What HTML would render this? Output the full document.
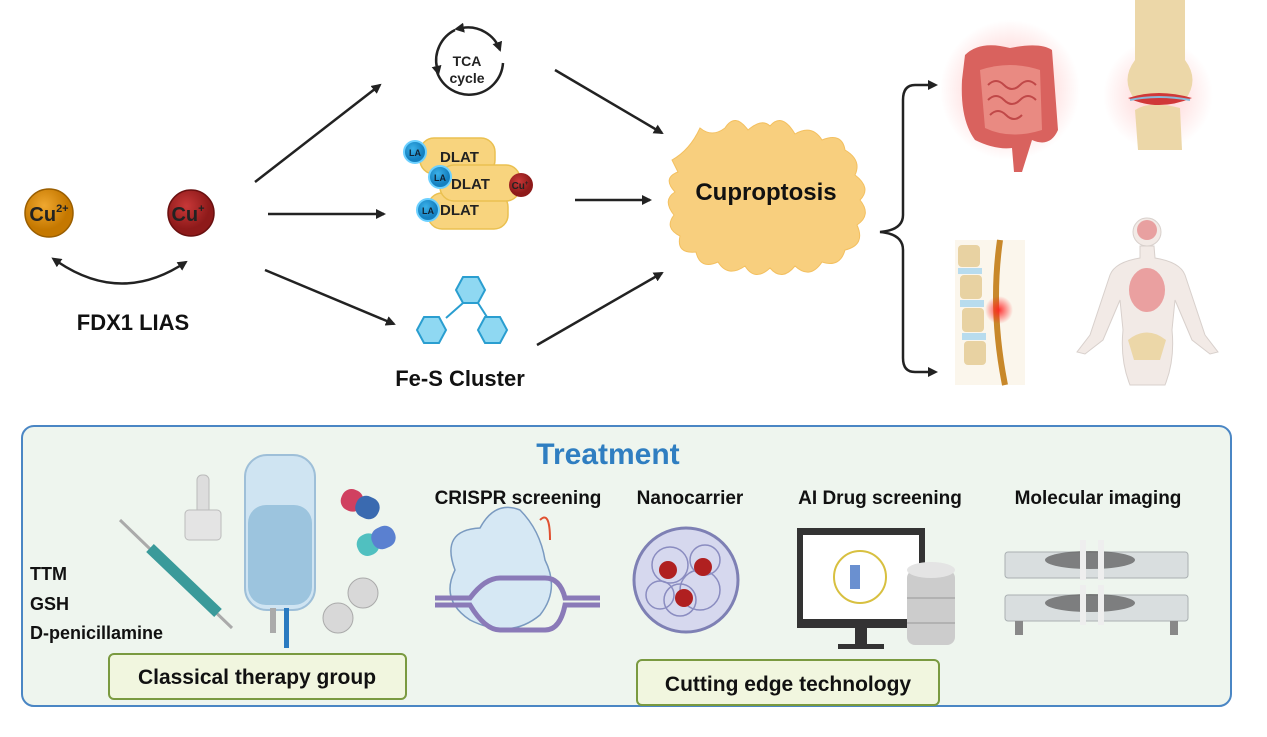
<!DOCTYPE html>
<html><head><meta charset="utf-8"><style>
body{margin:0;background:#fff;}
svg{display:block;font-family:"Liberation Sans",sans-serif;font-weight:bold;}
</style></head><body>
<svg width="1267" height="737" viewBox="0 0 1267 737" xmlns="http://www.w3.org/2000/svg">
<defs>
<marker id="ah" markerWidth="10" markerHeight="10" refX="8" refY="5" orient="auto" markerUnits="userSpaceOnUse"><path d="M0,0 L10,5 L0,10 Z" fill="#222"/></marker>
<marker id="ahs" markerWidth="10" markerHeight="10" refX="2" refY="5" orient="auto-start-reverse" markerUnits="userSpaceOnUse"><path d="M0,0 L10,5 L0,10 Z" fill="#222"/></marker>
<radialGradient id="cu2" cx="0.4" cy="0.35"><stop offset="0" stop-color="#f0a830"/><stop offset="1" stop-color="#c57800"/></radialGradient>
<radialGradient id="cu1" cx="0.4" cy="0.35"><stop offset="0" stop-color="#c83838"/><stop offset="1" stop-color="#8e1a1a"/></radialGradient>
<radialGradient id="la" cx="0.4" cy="0.35"><stop offset="0" stop-color="#3ab0e8"/><stop offset="1" stop-color="#1480c0"/></radialGradient>
<radialGradient id="glow"><stop offset="0" stop-color="#ff2020" stop-opacity="0.9"/><stop offset="1" stop-color="#ff2020" stop-opacity="0"/></radialGradient>
</defs>

<!-- Cu ions -->
<circle cx="49" cy="213" r="24" fill="url(#cu2)" stroke="#9a5e00" stroke-width="1.5"/>
<text x="49" y="221" font-size="20" text-anchor="middle" fill="#222">Cu<tspan font-size="11" dy="-9">2+</tspan></text>
<circle cx="191" cy="213" r="23" fill="url(#cu1)" stroke="#6a1010" stroke-width="1.5"/>
<text x="188" y="221" font-size="20" text-anchor="middle" fill="#222">Cu<tspan font-size="11" dy="-9">+</tspan></text>
<path d="M58,262 Q122,305 186,262" fill="none" stroke="#222" stroke-width="2.5" marker-start="url(#ahs)" marker-end="url(#ah)"/>
<text x="133" y="330" font-size="22" text-anchor="middle" fill="#111">FDX1  LIAS</text>

<!-- arrows from Cu+ -->
<line x1="255" y1="182" x2="380" y2="85" stroke="#222" stroke-width="2.5" marker-end="url(#ah)"/>
<line x1="268" y1="214" x2="384" y2="214" stroke="#222" stroke-width="2.5" marker-end="url(#ah)"/>
<line x1="265" y1="270" x2="394" y2="324" stroke="#222" stroke-width="2.5" marker-end="url(#ah)"/>

<!-- TCA cycle -->
<path d="M437,68 A34,34 0 0 1 455,30" fill="none" stroke="#222" stroke-width="2.5" marker-start="url(#ahs)"/>
<path d="M462,28 A34,34 0 0 1 500,50" fill="none" stroke="#222" stroke-width="2.5" marker-start="url(#ahs)" marker-end="url(#ah)"/>
<path d="M503,63 A34,34 0 0 1 437,72" fill="none" stroke="#222" stroke-width="2.5"/>
<text x="467" y="66" font-size="14" text-anchor="middle" fill="#222">TCA</text>
<text x="467" y="83" font-size="14" text-anchor="middle" fill="#222">cycle</text>

<!-- DLAT -->
<rect x="420" y="138" width="75" height="36" rx="14" fill="#f8d47e" stroke="#eac050" stroke-width="1.5"/>
<rect x="428" y="193" width="80" height="36" rx="14" fill="#f8d47e" stroke="#eac050" stroke-width="1.5"/>
<rect x="440" y="165" width="80" height="36" rx="14" fill="#f8d47e" stroke="#eac050" stroke-width="1.5"/>
<text x="440" y="162" font-size="15" fill="#222">DLAT</text>
<text x="451" y="189" font-size="15" fill="#222">DLAT</text>
<text x="440" y="215" font-size="15" fill="#222">DLAT</text>
<circle cx="415" cy="152" r="11" fill="url(#la)" stroke="#6cd0ff" stroke-width="2"/>
<text x="415" y="156" font-size="9" text-anchor="middle" fill="#123">LA</text>
<circle cx="440" cy="177" r="11" fill="url(#la)" stroke="#6cd0ff" stroke-width="2"/>
<text x="440" y="181" font-size="9" text-anchor="middle" fill="#123">LA</text>
<circle cx="428" cy="210" r="11" fill="url(#la)" stroke="#6cd0ff" stroke-width="2"/>
<text x="428" y="214" font-size="9" text-anchor="middle" fill="#123">LA</text>
<circle cx="521" cy="185" r="12" fill="url(#cu1)"/>
<text x="520" y="189" font-size="10" text-anchor="middle" fill="#222">Cu<tspan font-size="6" dy="-4">+</tspan></text>

<!-- Fe-S cluster -->
<g fill="#8fd8f2" stroke="#2a9ed0" stroke-width="2">
<polygon points="456,290 463,277 478,277 485,290 478,303 463,303"/>
<polygon points="417,330 424,317 439,317 446,330 439,343 424,343"/>
<polygon points="478,330 485,317 500,317 507,330 500,343 485,343"/>
</g>
<line x1="463" y1="303" x2="446" y2="318" stroke="#2a9ed0" stroke-width="2"/>
<line x1="478" y1="303" x2="487" y2="317" stroke="#2a9ed0" stroke-width="2"/>
<text x="460" y="386" font-size="22" text-anchor="middle" fill="#111">Fe-S Cluster</text>

<!-- arrows to cuproptosis -->
<line x1="555" y1="70" x2="662" y2="133" stroke="#222" stroke-width="2.5" marker-end="url(#ah)"/>
<line x1="575" y1="200" x2="650" y2="200" stroke="#222" stroke-width="2.5" marker-end="url(#ah)"/>
<line x1="537" y1="345" x2="662" y2="273" stroke="#222" stroke-width="2.5" marker-end="url(#ah)"/>

<!-- Cuproptosis blob -->
<path d="M672,160 Q690,150 700,128 Q712,138 725,128 Q735,112 748,130 Q762,118 770,126 Q782,112 795,134 Q812,124 822,140 Q842,132 845,150 Q862,160 855,175 Q872,188 860,200 Q872,215 857,225 Q866,245 845,250 Q840,268 822,262 Q810,280 795,266 Q782,282 770,268 Q755,282 745,266 Q728,278 718,262 Q700,270 696,252 Q676,254 680,236 Q664,228 674,215 Q662,200 675,192 Q662,178 678,172 Z" fill="#f8cf7e" stroke="#f3c060" stroke-width="1"/>
<text x="766" y="200" font-size="24" text-anchor="middle" fill="#111">Cuproptosis</text>

<!-- brace -->
<path d="M935,85 L915,85 Q903,85 903,100 L903,215 Q903,230 880,232 Q903,234 903,250 L903,358 Q903,372 915,372 L935,372" fill="none" stroke="#222" stroke-width="2.5"/>
<polygon points="938,85 928,80 928,90" fill="#222"/>
<polygon points="938,372 928,367 928,377" fill="#222"/>

<!-- intestine -->
<circle cx="1010" cy="90" r="70" fill="url(#glow)" opacity="0.35"/>
<path d="M965,55 Q980,40 1010,48 Q1040,42 1052,50 L1058,130 Q1050,148 1032,140 L1022,172 L1014,172 L1012,148 Q995,150 975,140 Q960,120 962,80 Z" fill="#d9625e"/>
<path d="M980,70 Q1010,60 1040,70 L1042,130 Q1010,140 985,128 Z" fill="#e98a82"/>
<path d="M988,85 q8,-8 16,0 q8,8 16,0 q8,-8 16,0 M988,100 q8,-8 16,0 q8,8 16,0 q8,-8 16,0 M990,115 q8,-8 16,0 q8,8 16,0" fill="none" stroke="#c04848" stroke-width="2"/>
<!-- knee -->
<circle cx="1158" cy="95" r="55" fill="url(#glow)" opacity="0.25"/>
<path d="M1135,0 L1185,0 L1185,60 Q1200,80 1185,100 L1135,100 Q1120,80 1135,60 Z" fill="#ecd7a8"/>
<path d="M1135,110 Q1150,100 1180,108 L1182,150 L1138,150 Z" fill="#ecd7a8"/>
<path d="M1128,98 Q1158,88 1192,98 Q1158,112 1128,98 Z" fill="#d03838"/>
<path d="M1130,100 Q1158,94 1190,100" fill="none" stroke="#8ab8d8" stroke-width="2"/>
<!-- spine -->
<rect x="955" y="240" width="70" height="145" fill="#fbf6ec"/>
<g fill="#e8d2a2"><rect x="958" y="245" width="22" height="22" rx="4"/><rect x="960" y="275" width="22" height="24" rx="4"/><rect x="962" y="308" width="22" height="24" rx="4"/><rect x="964" y="341" width="22" height="24" rx="4"/></g>
<g fill="#b8dcee"><rect x="958" y="268" width="24" height="6"/><rect x="960" y="300" width="24" height="7"/><rect x="962" y="333" width="24" height="7"/></g>
<path d="M1000,240 Q990,310 1005,385" fill="none" stroke="#c8882a" stroke-width="6"/>
<circle cx="999" cy="310" r="14" fill="url(#glow)"/>
<!-- body -->
<g fill="#f2eae6" stroke="#d8d0cc" stroke-width="1">
<circle cx="1147" cy="232" r="14"/>
<path d="M1140,246 L1154,246 L1155,258 Q1180,262 1185,275 L1205,335 L1218,352 L1210,354 L1192,340 L1175,300 L1172,330 Q1175,360 1165,385 L1130,385 Q1120,360 1123,330 L1120,300 L1103,340 L1085,354 L1077,352 L1090,335 L1110,275 Q1115,262 1140,258 Z"/>
</g>
<ellipse cx="1147" cy="290" rx="18" ry="22" fill="#eaa0a0"/>
<circle cx="1147" cy="230" r="10" fill="#e8a0a0"/>
<path d="M1128,340 Q1147,325 1166,340 L1160,360 L1134,360 Z" fill="#ecd7a8"/>

<!-- Treatment box -->
<rect x="22" y="426" width="1209" height="280" rx="12" fill="#eef5ee" stroke="#4a86c4" stroke-width="2"/>
<text x="608" y="464" font-size="30" text-anchor="middle" fill="#2f7ec1">Treatment</text>
<g font-size="19" fill="#111" text-anchor="middle">
<text x="518" y="504">CRISPR screening</text>
<text x="690" y="504">Nanocarrier</text>
<text x="880" y="504">AI Drug screening</text>
<text x="1098" y="504">Molecular imaging</text>
</g>
<g font-size="18" fill="#111">
<text x="30" y="580">TTM</text>
<text x="30" y="610">GSH</text>
<text x="30" y="639">D-penicillamine</text>
</g>
<!-- classical icons -->
<line x1="120" y1="520" x2="232" y2="628" stroke="#aaa" stroke-width="3"/>
<line x1="150" y1="548" x2="218" y2="613" stroke="#3a9a9a" stroke-width="11"/>
<rect x="197" y="475" width="12" height="40" rx="5" fill="#ddd" stroke="#bbb"/>
<rect x="185" y="510" width="36" height="30" rx="4" fill="#e4e4e4" stroke="#bbb"/>
<rect x="245" y="455" width="70" height="155" rx="22" fill="#cfe4f2" stroke="#9ebfd8" stroke-width="2"/>
<rect x="248" y="505" width="64" height="100" rx="18" fill="#9cc4de"/>
<rect x="270" y="608" width="6" height="25" fill="#aaa"/>
<rect x="284" y="608" width="5" height="40" fill="#2a7ac0"/>
<g transform="rotate(25 362 505)"><rect x="340" y="494" width="22" height="22" rx="10" fill="#d04060"/><rect x="356" y="494" width="24" height="22" rx="10" fill="#3a6ab0"/></g>
<g transform="rotate(-25 378 540)"><rect x="356" y="529" width="22" height="22" rx="10" fill="#50c0c0"/><rect x="372" y="529" width="24" height="22" rx="10" fill="#5a80d0"/></g>
<circle cx="363" cy="593" r="15" fill="#d8d8d8" stroke="#aaa"/>
<circle cx="338" cy="618" r="15" fill="#d8d8d8" stroke="#aaa"/>
<!-- CRISPR -->
<path d="M455,570 Q440,530 480,528 Q495,500 520,510 Q540,530 545,560 Q560,590 540,615 Q510,640 470,620 Q440,600 455,570 Z" fill="#d6e8f4" stroke="#7a9ac0" stroke-width="1.5"/>
<path d="M435,598 L470,598 Q485,578 500,578 L545,578 Q560,578 565,598 L600,598" fill="none" stroke="#8a7ab8" stroke-width="5"/>
<path d="M435,605 L470,605 Q485,630 500,630 L545,630 Q560,630 565,605 L600,605" fill="none" stroke="#8a7ab8" stroke-width="5"/>
<path d="M540,520 Q550,510 550,540" fill="none" stroke="#e05030" stroke-width="2"/>
<!-- Nanocarrier -->
<circle cx="686" cy="580" r="52" fill="#d6d8ee" stroke="#7e80b4" stroke-width="3"/>
<g fill="none" stroke="#8a8cc0" stroke-width="1.5"><circle cx="670" cy="565" r="18"/><circle cx="700" cy="590" r="20"/><circle cx="680" cy="600" r="16"/><circle cx="705" cy="560" r="15"/><circle cx="660" cy="595" r="14"/></g>
<circle cx="668" cy="570" r="9" fill="#b02020"/><circle cx="703" cy="567" r="9" fill="#b02020"/><circle cx="684" cy="598" r="9" fill="#b02020"/>
<!-- AI monitor -->
<rect x="797" y="528" width="128" height="100" fill="#333"/>
<rect x="803" y="535" width="116" height="84" fill="#fff"/>
<rect x="855" y="628" width="12" height="18" fill="#333"/>
<rect x="838" y="644" width="46" height="5" fill="#333"/>
<ellipse cx="860" cy="577" rx="26" ry="26" fill="none" stroke="#d8c040" stroke-width="2"/>
<rect x="850" y="565" width="10" height="24" fill="#6a90d0"/>
<rect x="907" y="570" width="48" height="75" rx="8" fill="#ccc"/>
<ellipse cx="931" cy="570" rx="24" ry="8" fill="#e4e4e4"/>
<line x1="907" y1="598" x2="955" y2="598" stroke="#999"/><line x1="907" y1="623" x2="955" y2="623" stroke="#999"/>
<!-- Molecular imaging -->
<g fill="#d9dedf" stroke="#aab0b2">
<rect x="1005" y="552" width="183" height="26" rx="3"/>
<rect x="1005" y="595" width="183" height="26" rx="3"/>
</g>
<ellipse cx="1090" cy="560" rx="45" ry="9" fill="#555" opacity="0.7"/>
<ellipse cx="1090" cy="603" rx="45" ry="9" fill="#555" opacity="0.7"/>
<rect x="1080" y="540" width="6" height="40" fill="#eee"/><rect x="1098" y="540" width="6" height="40" fill="#eee"/>
<rect x="1080" y="585" width="6" height="40" fill="#eee"/><rect x="1098" y="585" width="6" height="40" fill="#eee"/>
<rect x="1015" y="621" width="8" height="14" fill="#888"/><rect x="1170" y="621" width="8" height="14" fill="#888"/>

<!-- bottom labels -->
<rect x="109" y="654" width="297" height="45" rx="5" fill="#f1f6df" stroke="#7a9a40" stroke-width="2"/>
<text x="257" y="684" font-size="21" text-anchor="middle" fill="#111">Classical therapy group</text>
<rect x="637" y="660" width="302" height="45" rx="5" fill="#f1f6df" stroke="#7a9a40" stroke-width="2"/>
<text x="788" y="691" font-size="21" text-anchor="middle" fill="#111">Cutting edge technology</text>
</svg>
</body></html>
